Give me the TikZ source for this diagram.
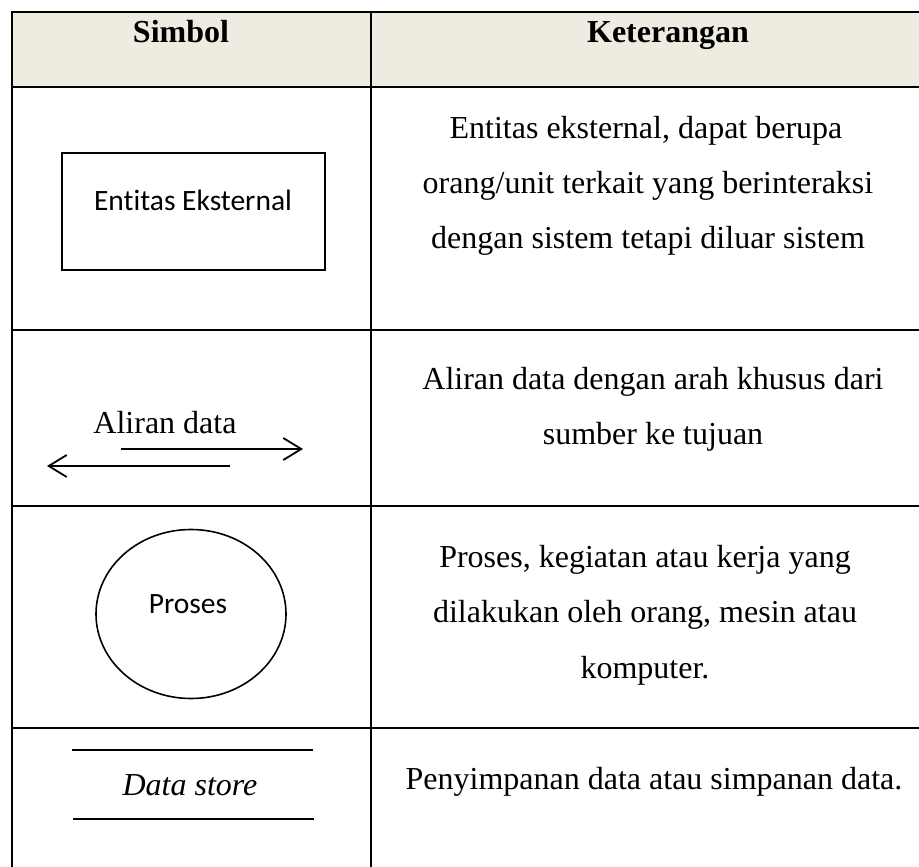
\documentclass[tikz,border=0pt]{standalone}
\usepackage{fontspec}
\setmainfont{Liberation Serif}
\newfontfamily\calib[Ligatures=NoCommon]{Carlito}
\usetikzlibrary{arrows.meta}
\definecolor{headbg}{HTML}{EEECE1}
\tikzset{
  grid/.style={line width=2pt, line cap=rect},
  shapeline/.style={line width=1.6pt},
  txt/.style={anchor=base, inner sep=0pt, font=\fontsize{32}{38}\selectfont},
  hdr/.style={anchor=base, inner sep=0pt, font=\fontsize{32}{38}\selectfont\bfseries},
  sanstxt/.style={anchor=base, inner sep=0pt, font=\fontsize{29.5}{35}\selectfont\calib},
  flow/.style={line width=1.8pt, -{Straight Barb[length=18pt,width=22pt,line width=1.8pt]}}
}
\begin{document}
\begin{tikzpicture}[x=1pt,y=-1pt]
\useasboundingbox (0,0) rectangle (919,867);
% header background
\fill[headbg] (12,12) rectangle (919,87);
% grid
\draw[grid] (12,867) -- (12,12) -- (919,12);
\draw[grid] (371,12) -- (371,867);
\foreach \yy in {87,330,506,728} \draw[grid] (12,\yy) -- (919,\yy);
% header texts
\node[hdr] (hsimbol) at (181,43) {Simbol};
\node[hdr] (hket) at (668,43) {Keterangan};
% row 1
\draw[shapeline] (62,153) rectangle (325,270);
\node[sanstxt] (ee) at (193,210) {Entitas Eksternal};
\node[txt] (k1a) at (646,138) {Entitas eksternal, dapat berupa};
\node[txt] (k1b) at (648,193) {orang/unit terkait yang berinteraksi};
\node[txt] (k1c) at (648,248) {dengan sistem tetapi diluar sistem};
% row 2
\node[txt] (ad) at (165,433) {Aliran data};
\coordinate (r1s) at (121,449);
\coordinate (r1e) at (303,449);
\coordinate (l1s) at (230,466);
\coordinate (l1e) at (47,466);
\draw[flow] (r1s) -- (r1e);
\draw[flow] (l1s) -- (l1e);
\node[txt] (k2a) at (653,389) {Aliran data dengan arah khusus dari};
\node[txt] (k2b) at (653,444) {sumber ke tujuan};
% row 3
\draw[shapeline] (191,614) ellipse [x radius=95, y radius=84.5];
\node[sanstxt] (pr) at (188,613) {Proses};
\node[txt] (k3a) at (645,567) {Proses, kegiatan atau kerja yang};
\node[txt] (k3b) at (645,622) {dilakukan oleh orang, mesin atau};
\node[txt] (k3c) at (645,678) {komputer.};
% row 4
\coordinate (ds1a) at (72,750);
\coordinate (ds1b) at (313,750);
\coordinate (ds2a) at (73,819);
\coordinate (ds2b) at (314,819);
\draw[shapeline] (ds1a) -- (ds1b);
\draw[shapeline] (ds2a) -- (ds2b);
\node[txt, font=\fontsize{32}{38}\selectfont\itshape] (dst) at (190,795) {Data store};
\node[txt] (k4a) at (654,789) {Penyimpanan data atau simpanan data.};
\end{tikzpicture}
\end{document}
